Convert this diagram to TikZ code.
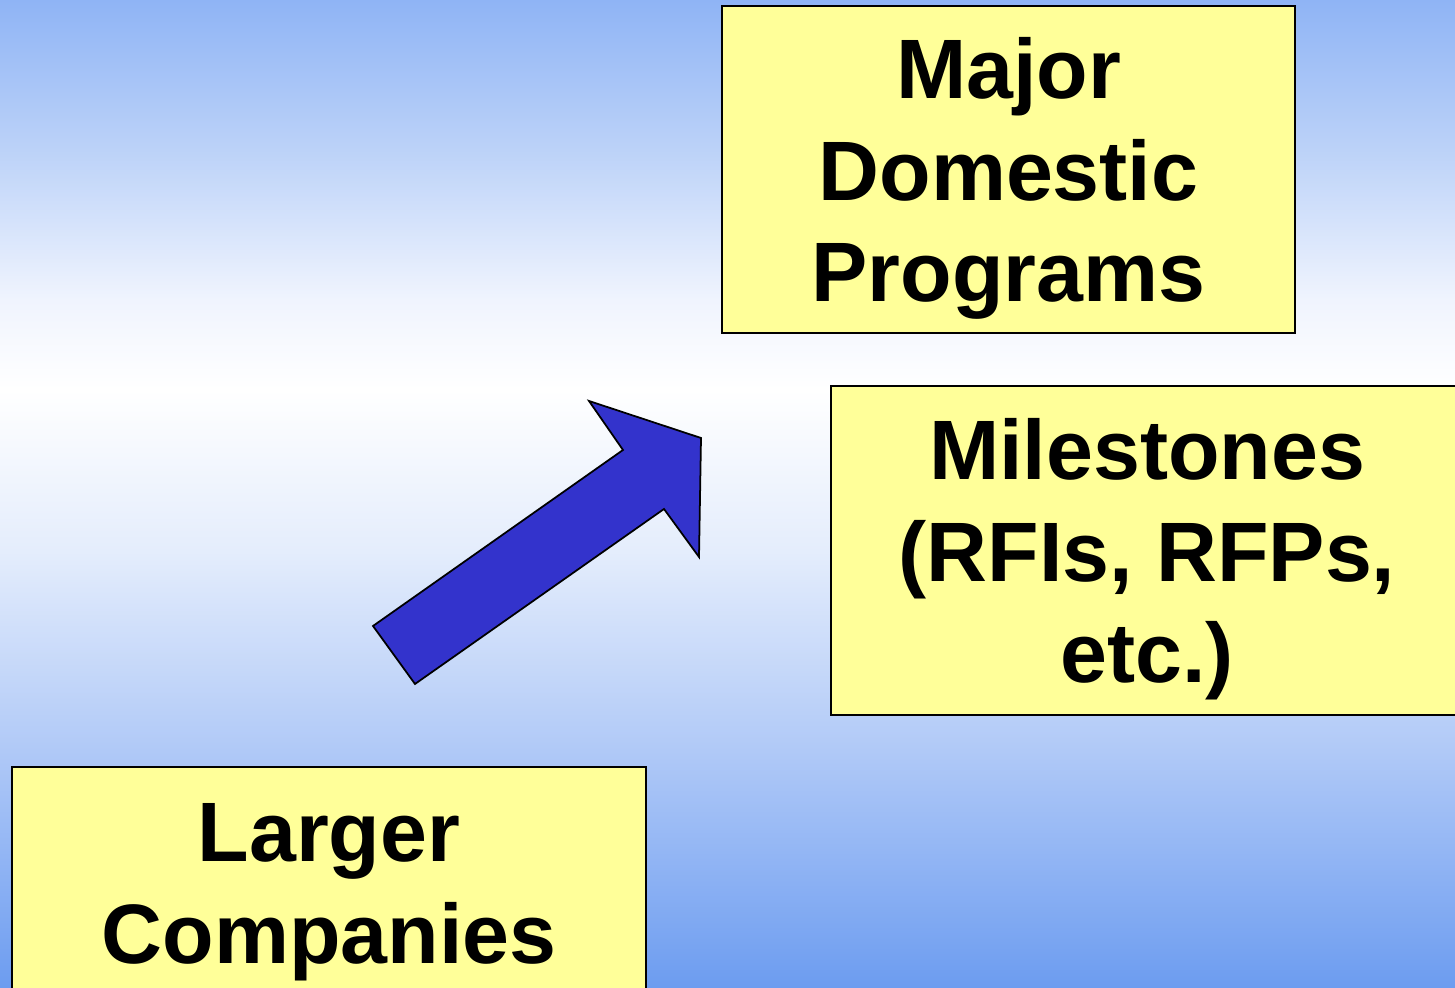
\documentclass[tikz,border=0pt]{standalone}
\usepackage{fontspec}
\setmainfont{Liberation Sans}
\definecolor{notepad}{HTML}{FFFF99}
\definecolor{arrowblue}{HTML}{3333CC}
% sky: blue at top and bottom, white a little above the middle
\pgfdeclareverticalshading{skyfade}{100bp}{
  rgb(0bp)=(0.424,0.612,0.941);
  rgb(25bp)=(0.424,0.612,0.941);
  rgb(37bp)=(0.690,0.788,0.969);
  rgb(47.1bp)=(0.894,0.929,0.988);
  rgb(55.3bp)=(1,1,1);
  rgb(59.8bp)=(0.941,0.957,0.996);
  rgb(67.4bp)=(0.737,0.824,0.973);
  rgb(75bp)=(0.561,0.706,0.961);
  rgb(100bp)=(0.561,0.706,0.961)}
\tikzset{
  panel/.style={
    draw,
    line width=0.6pt,
    fill=notepad,
    inner sep=0pt,
    align=center,
    text depth=0pt,
    font=\fontsize{24}{29}\selectfont\bfseries
  },
  bigarrow/.style={
    draw,
    line width=0.5pt,
    fill=arrowblue,
    line join=miter
  }
}
\begin{document}
\begin{tikzpicture}
  \clip (0,0) rectangle (14.55,9.88);
  \shade[shading=skyfade] (0,0) rectangle (14.55,9.88);
  \node[panel, minimum width=5.73cm, minimum height=3.27cm] (major) at (10.085,8.185)
    {Major\\Domestic\\Programs};
  \node[panel, minimum width=6.32cm, minimum height=3.29cm] (milestones) at (11.47,4.375)
    {Milestones\\(RFIs, RFPs,\\etc.)};
  \node[panel, minimum width=6.34cm, minimum height=2.33cm] (larger) at (3.29,1.045)
    {Larger\\Companies};
  % block arrow
  \path[bigarrow] (3.73,3.62) -- (6.23,5.38) -- (5.89,5.87) -- (7.01,5.50)
    -- (6.99,4.31) -- (6.64,4.79) -- (4.15,3.04) -- cycle;
\end{tikzpicture}
\end{document}
